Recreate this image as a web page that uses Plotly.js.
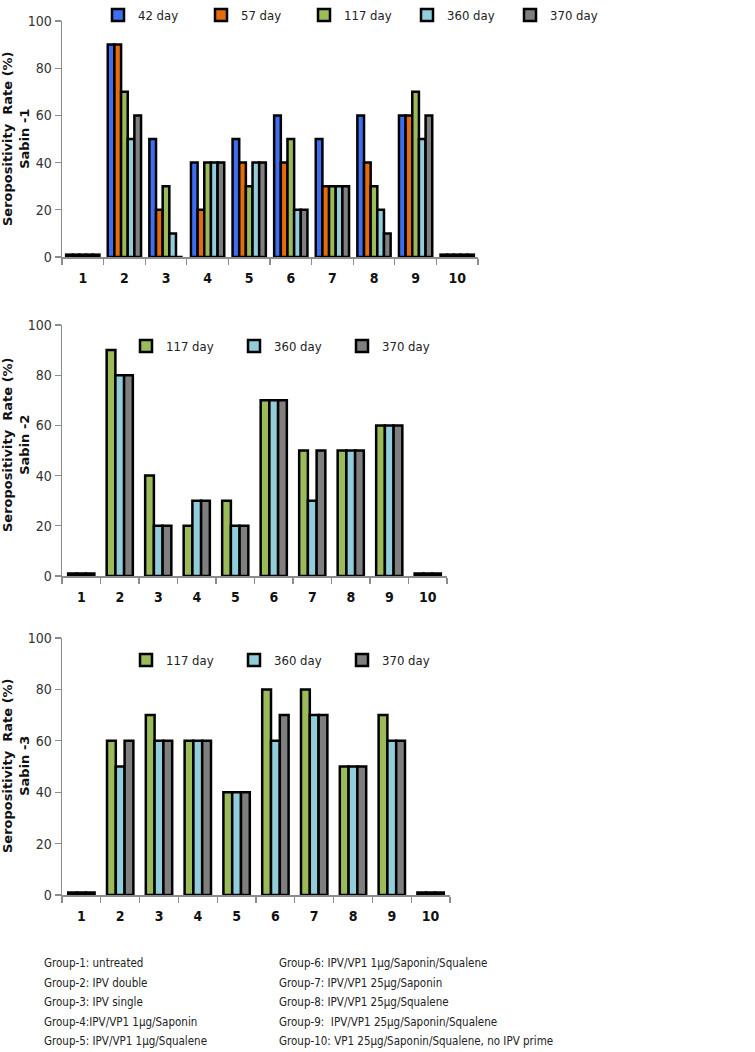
<!DOCTYPE html>
<html>
<head>
<meta charset="utf-8">
<script src="https://cdn.plot.ly/plotly-3.0.1.min.js"></script>
<style>html,body{margin:0;padding:0;background:#fff}#chart{width:755px;height:1052px}</style>
</head>
<body>
<div id="chart"></div>
<script>
var groups = ["1","2","3","4","5","6","7","8","9","10"];
var seriesNames1 = ["42 day","57 day","117 day","360 day","370 day"];
var seriesNames23 = ["117 day","360 day","370 day"];
// Sabin-1
var s1_d42  = [1,90,50,40,50,60,50,60,60,1];
var s1_d57  = [1,90,20,20,40,40,30,40,60,1];
var s1_d117 = [1,70,30,40,30,50,30,30,70,1];
var s1_d360 = [1,50,10,40,40,20,30,20,50,1];
var s1_d370 = [1,60,0,40,40,20,30,10,60,1];
// Sabin-2
var s2_d117 = [1,90,40,20,30,70,50,50,60,1];
var s2_d360 = [1,80,20,30,20,70,30,50,60,1];
var s2_d370 = [1,80,20,30,20,70,50,50,60,1];
// Sabin-3
var s3_d117 = [1,60,70,60,40,80,80,50,70,1];
var s3_d360 = [1,50,60,60,40,60,70,50,60,1];
var s3_d370 = [1,60,60,60,40,70,70,50,60,1];
var footLeft = ["Group-1: untreated","Group-2: IPV double","Group-3: IPV single","Group-4:IPV/VP1 1µg/Saponin","Group-5: IPV/VP1 1µg/Squalene"];
var footRight = ["Group-6: IPV/VP1 1µg/Saponin/Squalene","Group-7: IPV/VP1 25µg/Saponin","Group-8: IPV/VP1 25µg/Squalene","Group-9:  IPV/VP1 25µg/Saponin/Squalene","Group-10: VP1 25µg/Saponin/Squalene, no IPV prime"];

var colors = {"42 day":"#3d6ff0","57 day":"#e46c0a","117 day":"#9bbb59","360 day":"#92cddc","370 day":"#7f7f7f"};
var W = 755, H = 1052;
var FONT = "DejaVu Sans Condensed, Lato, sans-serif";

function bar(name, y, xa, ya, leg, i, n) {
  var t = {type:"bar", name:name, x:groups, y:y, xaxis:xa, yaxis:ya, legend:leg,
    marker:{color:colors[name], line:{color:"#000", width:2.5}}, hoverinfo:"y"};
  if (n === 3) { var w = 0.68/3; t.width = w; t.offset = -0.34 + i*w; }
  return t;
}
var data = [];
var p1 = [s1_d42,s1_d57,s1_d117,s1_d360,s1_d370];
seriesNames1.forEach(function(n,i){ data.push(bar(n,p1[i],"x","y","legend",i,5)); });
var p2 = [s2_d117,s2_d360,s2_d370];
seriesNames23.forEach(function(n,i){ data.push(bar(n,p2[i],"x2","y2","legend2",i,3)); });
var p3 = [s3_d117,s3_d360,s3_d370];
seriesNames23.forEach(function(n,i){ data.push(bar(n,p3[i],"x3","y3","legend3",i,3)); });

function px(x){return x/W;}
function py(y){return 1-y/H;}

function xax(x0,x1,anchor){
  return {domain:[px(x0),px(x1)], anchor:anchor, type:"category", showline:true, linecolor:"#8c8c8c", linewidth:1.5,
    ticks:"outside", tickson:"boundaries", ticklen:6, tickcolor:"#8c8c8c", tickwidth:1.2, showgrid:false, zeroline:false,
    ticklabelstandoff:8,
    tickfont:{family:FONT, size:14, color:"#111", weight:"bold"}, fixedrange:true};
}
function yax(yb,yt,anchor){
  return {domain:[py(yb),py(yt)], anchor:anchor, range:[0,100], dtick:20, showline:true, linecolor:"#8c8c8c", linewidth:1.5,
    ticks:"outside", ticklen:6, tickcolor:"#8c8c8c", tickwidth:1.2, showgrid:false, zeroline:false,
    tickfont:{family:FONT, size:14, color:"#333"}, fixedrange:true};
}
var legFont = {family:FONT, size:13, color:"#222"};
var layout = {
  width:W, height:H, margin:{l:0,r:0,t:0,b:0}, paper_bgcolor:"#fff", plot_bgcolor:"#fff",
  barmode:"group", bargap:0.2, bargroupgap:0, showlegend:true,
  font:{family:FONT},
  xaxis:xax(62,478,"y"), yaxis:yax(257,21,"x"),
  xaxis2:xax(62,447,"y2"), yaxis2:yax(576,325,"x2"),
  xaxis3:xax(62,450,"y3"), yaxis3:yax(895,638,"x3"),
  legend:{orientation:"h", x:px(98), y:1, xanchor:"left", yanchor:"top", font:legFont, bgcolor:"rgba(0,0,0,0)",
    itemwidth:30, entrywidth:58, traceorder:"normal"},
  legend2:{orientation:"h", x:px(126), y:py(346), xanchor:"left", yanchor:"middle", font:legFont, bgcolor:"rgba(0,0,0,0)",
    itemwidth:30, entrywidth:63, traceorder:"normal"},
  legend3:{orientation:"h", x:px(126), y:py(660), xanchor:"left", yanchor:"middle", font:legFont, bgcolor:"rgba(0,0,0,0)",
    itemwidth:30, entrywidth:63, traceorder:"normal"},
  annotations:[]
};
var titles = [["1",139],["2",445],["3",766]];
titles.forEach(function(t){
  layout.annotations.push({text:"Seropositivity  Rate (%)<br>Sabin -"+t[0], xref:"paper", yref:"paper",
    x:px(16), y:py(t[1]), xanchor:"center", yanchor:"middle", showarrow:false, textangle:-90,
    font:{family:"DejaVu Sans, Verdana, sans-serif", size:13, color:"#111", weight:"bold"}});
});
var fy = [963,983,1002,1022,1041];
footLeft.forEach(function(s,i){
  layout.annotations.push({text:s, xref:"paper", yref:"paper", x:px(42), y:py(fy[i]), xanchor:"left", yanchor:"middle",
    showarrow:false, font:{family:FONT, size:11.5, color:"#222"}});
});
footRight.forEach(function(s,i){
  layout.annotations.push({text:s, xref:"paper", yref:"paper", x:px(277), y:py(fy[i]), xanchor:"left", yanchor:"middle",
    showarrow:false, font:{family:FONT, size:11.5, color:"#222"}});
});
Plotly.newPlot("chart", data, layout, {displayModeBar:false, staticPlot:true});
</script>
</body>
</html>
